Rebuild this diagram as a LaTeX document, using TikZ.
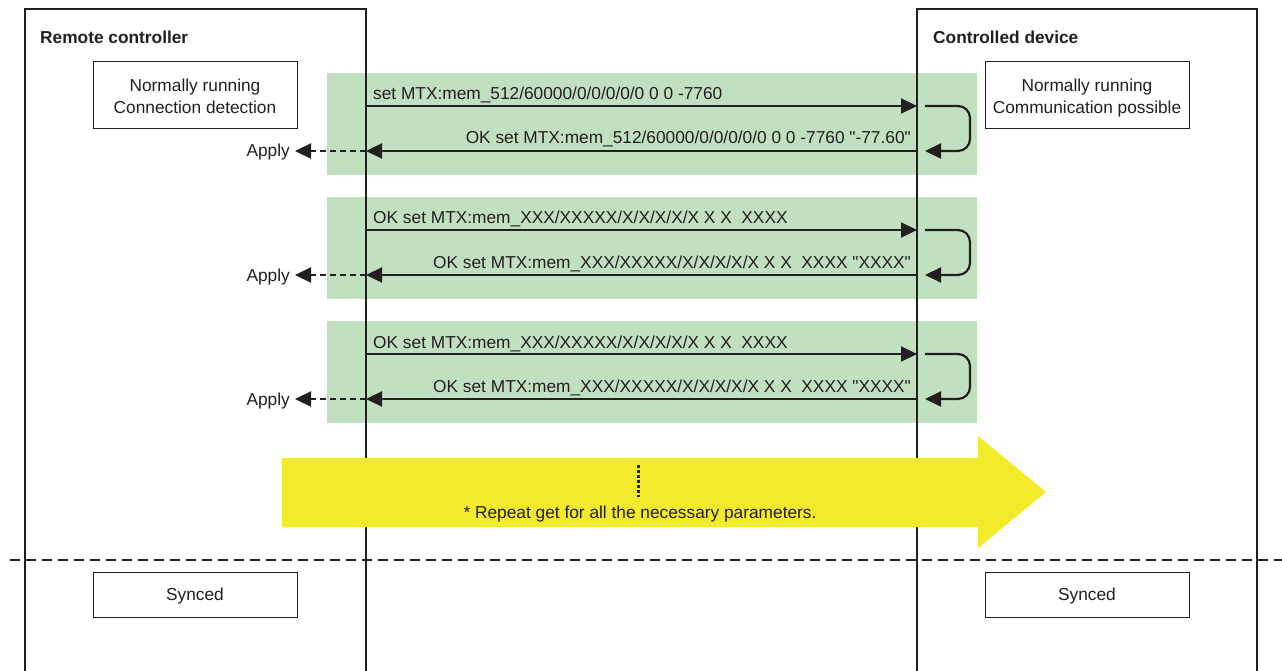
\documentclass[tikz,border=0pt]{standalone}
\usepackage{fontspec}
\setmainfont{Liberation Sans}[Ligatures=TeXOff]
\usetikzlibrary{arrows.meta}
\definecolor{bandgreen}{RGB}{192,224,192}
\definecolor{arrowyellow}{RGB}{243,234,44}
\definecolor{ink}{RGB}{35,31,32}
\tikzset{
  lifeline/.style={draw=ink, line width=2.2pt},
  statebox/.style={draw=ink, line width=1pt, fill=white, minimum width=204pt, align=center, inner sep=0pt, text=ink},
  msgarrow/.style={draw=ink, line width=2.2pt, -{Triangle[length=16pt,width=15pt]}},
  applyarrow/.style={msgarrow, dash pattern=on 6pt off 4pt},
  msgtext/.style={text=ink, inner sep=0pt},
  band/.style={fill=bandgreen, draw=none},
  title/.style={font=\fontsize{17.3}{20}\selectfont\bfseries, text=ink, inner sep=0pt, anchor=base west}
}
\begin{document}
\begin{tikzpicture}[x=1pt,y=-1pt, font=\fontsize{17.3}{22}\selectfont]
\useasboundingbox[fill=white] (0,0) rectangle (1282,671);
% green bands
\foreach \t in {73,197,321}{
  \fill[bandgreen] (327,\t) rectangle (977,\t+102);
}
% lifelines (open boxes)
\draw[lifeline] (25,671) -- (25,9) -- (366,9) -- (366,671);
\draw[lifeline] (917,671) -- (917,9) -- (1257,9) -- (1257,671);
\node[title] (rc) at (40,44) {Remote controller};
\node[title] (cd) at (933,44) {Controlled device};
% state boxes
\node[statebox, minimum height=67pt] (s1) at (195,95.5) {\rule{0pt}{18pt}Normally running\\Connection detection\vphantom{g}};
\node[statebox, minimum height=67pt] (s2) at (1087,95.5) {\rule{0pt}{18pt}Normally running\\Communication possible\vphantom{g}};
% messages
\foreach \t/\fw/\bw [count=\i] in {
  73/{set MTX:mem\_512/60000/0/0/0/0/0 0 0 -7760}/{OK set MTX:mem\_512/60000/0/0/0/0/0 0 0 -7760 "-77.60"},
  197/{OK set MTX:mem\_XXX/XXXXX/X/X/X/X/X X X\ \ XXXX}/{OK set MTX:mem\_XXX/XXXXX/X/X/X/X/X X X\ \ XXXX "XXXX"},
  321/{OK set MTX:mem\_XXX/XXXXX/X/X/X/X/X X X\ \ XXXX}/{OK set MTX:mem\_XXX/XXXXX/X/X/X/X/X X X\ \ XXXX "XXXX"}}{
  \coordinate (lf\i) at (366,\t+33);
  \coordinate (rf\i) at (917,\t+33);
  \coordinate (lb\i) at (366,\t+78);
  \coordinate (rb\i) at (917,\t+78);
  \coordinate (ls\i) at (925,\t+33);
  \coordinate (le\i) at (925,\t+78);
  \node[msgtext, anchor=base west] (ft\i) at (373,\t+27) {\fw};
  \node[msgtext, anchor=base east] (bt\i) at (911,\t+71) {\bw};
  \draw[msgarrow] (lf\i) -- (rf\i);
  \draw[msgarrow] (rb\i) -- (lb\i);
  \draw[msgarrow, rounded corners=12pt] (ls\i) -- (970,\t+33) -- (970,\t+78) -- (le\i);
  \node[msgtext, anchor=base east] (ap\i) at (290,\t+84) {Apply};
  \coordinate (at\i) at (295,\t+78);
  \draw[applyarrow] (lb\i) -- (at\i);
}
% yellow arrow
\fill[arrowyellow] (282,458) -- (978,458) -- (978,436) -- (1046,492) -- (978,548) -- (978,527) -- (282,527) -- cycle;
\coordinate (d1) at (638,465);
\coordinate (d2) at (638,497);
\draw[ink, line width=3pt, dash pattern=on 3pt off 2pt] (d1) -- (d2);
\node[msgtext, anchor=base] (rep) at (640,518) {* Repeat get for all the necessary parameters.};
% sync line
\coordinate (h1) at (10,560);
\coordinate (h2) at (1282,560);
\draw[ink, line width=2pt, dash pattern=on 10pt off 6pt] (h1) -- (h2);
\node[statebox, minimum height=45pt, text height=12.4pt, text depth=0pt] (y1) at (195,594.5) {Synced};
\node[statebox, minimum height=45pt, text height=12.4pt, text depth=0pt] (y2) at (1087,594.5) {Synced};
\end{tikzpicture}
\end{document}
